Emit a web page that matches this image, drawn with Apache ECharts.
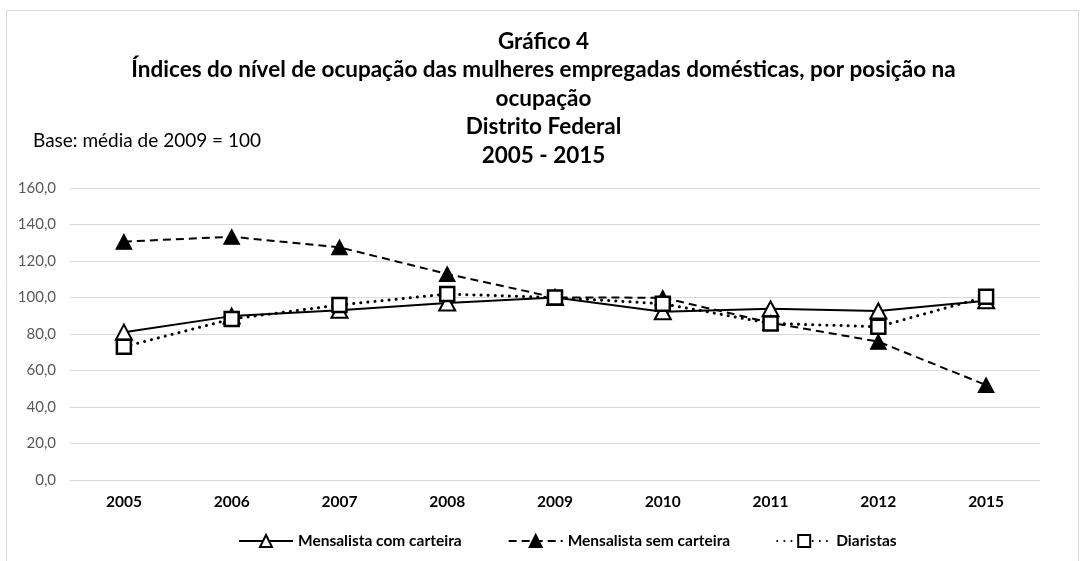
<!DOCTYPE html>
<html>
<head>
<meta charset="utf-8">
<script src="https://cdn.jsdelivr.net/npm/echarts@6/dist/echarts.min.js"></script>
<style>
  html, body { margin: 0; padding: 0; background: #fff; }
  #chart { width: 1087px; height: 561px; }
</style>
</head>
<body>
<div id="chart"></div>
<script>
// anos
const categorias = ['2005', '2006', '2007', '2008', '2009', '2010', '2011', '2012', '2015']
// índices (base: média de 2009 = 100)
const comCarteira = [81.0, 89.8, 93.0, 97.0, 100.0, 92.2, 93.8, 92.6, 98.2]
const semCarteira = [130.6, 133.3, 127.5, 112.9, 100.0, 99.9, 86.2, 75.8, 52.0]
const diaristas = [73.0, 88.2, 95.9, 101.9, 100.0, 96.6, 85.8, 84.0, 100.4]
const nomes = ['Mensalista com carteira', 'Mensalista sem carteira', 'Diaristas']

const fonte = 'Lato, "Open Sans", sans-serif'
const tituloLinhas = [
    'Gráfico 4',
    'Índices do nível de ocupação das mulheres empregadas domésticas, por posição na',
    'ocupação',
    'Distrito Federal',
    '2005 - 2015'
]

const chart = echarts.init(document.getElementById('chart'))

const options = {
    backgroundColor: '#fff',
    textStyle: { fontFamily: fonte },
    title: [{
        text: tituloLinhas.join('\n'),
        left: 'center',
        top: 22,
        textStyle: {
            fontSize: 22.5,
            fontWeight: 'bold',
            color: '#000',
            lineHeight: 28.5,
            fontFamily: fonte
        }
    }, {
        text: 'Base: média de 2009 = 100',
        left: 28,
        top: 126,
        textStyle: {
            fontSize: 19,
            fontWeight: 'normal',
            color: '#000',
            fontFamily: fonte
        }
    }],
    // moldura
    graphic: [{
        type: 'rect',
        shape: { x: 6.5, y: 10.5, width: 1072, height: 560 },
        style: { fill: 'none', stroke: '#d9d9d9', lineWidth: 1 },
        silent: true
    }],
    legend: {
        data: nomes,
        bottom: 7,
        left: 233,
        itemWidth: 54,
        itemHeight: 15,
        itemGap: 46,
        textStyle: { fontSize: 15.5, fontWeight: 'bold', color: '#000', fontFamily: fonte }
    },
    grid: {
        left: 70,
        right: 47,
        top: 188,
        bottom: 81,
        containLabel: false
    },
    xAxis: {
        type: 'category',
        data: categorias,
        boundaryGap: true,
        axisLine: { show: false },
        axisTick: { show: false },
        axisLabel: {
            fontSize: 15.5,
            fontWeight: 'bold',
            color: '#000',
            margin: 14,
            fontFamily: fonte
        }
    },
    yAxis: {
        type: 'value',
        min: 0,
        max: 160,
        interval: 20,
        axisLine: { show: false },
        axisTick: { show: false },
        splitLine: { lineStyle: { color: '#d9d9d9', width: 1 } },
        axisLabel: {
            fontSize: 15,
            color: '#595959',
            margin: 14,
            fontFamily: fonte,
            formatter: v => v.toFixed(1).replace('.', ',')
        }
    },
    series: [{
        name: nomes[0],
        type: 'line',
        data: comCarteira,
        symbol: 'triangle',
        symbolSize: [16, 15],
        itemStyle: { color: '#fff', borderColor: '#000', borderWidth: 2 },
        lineStyle: { color: '#000', width: 2, type: 'solid' },
        z: 2
    }, {
        name: nomes[1],
        type: 'line',
        data: semCarteira,
        symbol: 'triangle',
        symbolSize: [16, 15],
        itemStyle: { color: '#000', borderColor: '#000', borderWidth: 1 },
        lineStyle: { color: '#000', width: 2, type: [8, 5] },
        z: 3
    }, {
        name: nomes[2],
        type: 'line',
        data: diaristas,
        symbol: 'rect',
        symbolSize: 14,
        itemStyle: { color: '#fff', borderColor: '#000', borderWidth: 2.5 },
        lineStyle: { color: '#000', width: 3, type: [0.1, 7], cap: 'round' },
        z: 4
    }],
    animation: false
}

chart.setOption(options)
</script>
</body>
</html>
